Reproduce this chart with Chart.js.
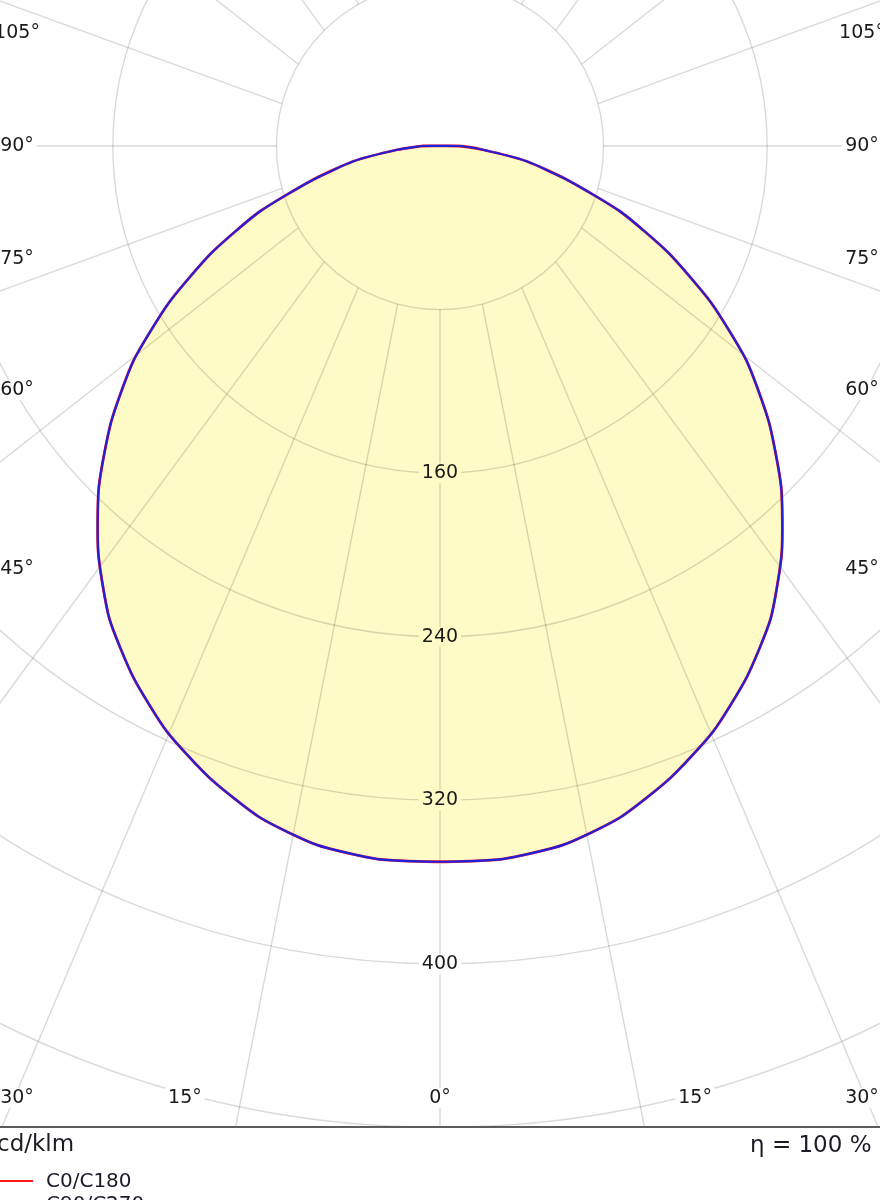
<!DOCTYPE html>
<html>
<head>
<meta charset="utf-8">
<script src="https://cdn.jsdelivr.net/npm/chart.js@4.4.1/dist/chart.umd.min.js"></script>
<style>
  html, body { margin: 0; padding: 0; background: #fff; width: 880px; height: 1200px; overflow: hidden;
    font-family: "DejaVu Sans", Verdana, sans-serif; color: #1c1c28; }
  #plot { position: absolute; left: 0; top: 0; width: 880px; height: 1127px; }
  #foot { position: absolute; left: 0; top: 1126px; width: 880px; height: 74px; border-top: 2px solid #5c5c5c; }
  .big { position: absolute; font-size: 23px; line-height: 26px; white-space: nowrap; }
  .item { position: absolute; left: 0; height: 24px; font-size: 20px; line-height: 24px; white-space: nowrap; }
  .item i { position: absolute; left: 0; top: 12px; width: 33px; height: 0; border-top: 2px solid; }
  .item span { position: absolute; left: 46px; top: 0; }
</style>
</head>
<body>
<div id="plot"><canvas id="ldc"></canvas></div>
<div id="foot">
  <div class="big" style="left:-3px; top:2px;">cd/klm</div>
  <div class="big" style="left:750px; top:3px;">η = 100 %</div>
  <div class="item" style="top:40px;"><i style="border-color:#ff1a1a"></i><span>C0/C180</span></div>
  <div class="item" style="top:63px;"><i style="border-color:#1a1aff"></i><span>C90/C270</span></div>
</div>
<script>
// luminous intensity, cd/klm, per gamma angle (symmetric planes)
let gamma   = [0, 5, 10, 15, 20, 25, 30, 35, 40, 45, 50, 55, 60, 65, 70, 75, 80, 85, 90];
let c0c180  = [350, 350, 347, 340, 329, 316, 300, 282, 260, 236, 210, 183, 153, 123, 94, 65, 43, 21, 9];
let c90c270 = [350, 350, 347, 340, 329, 316, 300, 282, 260, 236, 210, 183, 153, 123, 94, 65, 43, 21, 9];

let rings       = [80, 160, 240, 320, 400, 480, 560];
let ringLabels  = [160, 240, 320, 400];
let spokes      = [0, 15, 30, 45, 60, 75, 90, 105, 120, 135, 150, 165, 180];
let sideLabels  = [45, 60, 75, 90, 105];
let floorLabels = [0, 15, 30];

const fillColor = '#fffbc6';
const rad = d => d * Math.PI / 180;

let curvePoints = (values, closed) => {
  let left = gamma.map((g, i) => ({ x: -values[i] * Math.sin(rad(g)), y: -values[i] * Math.cos(rad(g)) })).reverse();
  let right = gamma.map((g, i) => ({ x: values[i] * Math.sin(rad(g)), y: -values[i] * Math.cos(rad(g)) }));
  let pts = left.concat(right.slice(1));
  if (closed) pts.push(pts[0]);
  return pts;
};

let labelBox = (ctx, text, x, y, bg) => {
  let w = ctx.measureText(text).width + 6;
  ctx.fillStyle = bg;
  ctx.fillRect(x - w / 2, y - 10, w, 20);
  ctx.fillStyle = '#1a1a1a';
  ctx.fillText(text, x, y);
};

const polarGrid = {
  id: 'polarGrid',
  afterDatasetDraw(chart, args) {
    if (args.index !== 0) return;
    let { ctx, scales: { x, y } } = chart;
    let cx = x.getPixelForValue(0), cy = y.getPixelForValue(0);
    let unit = x.getPixelForValue(1) - cx;
    ctx.save();
    ctx.strokeStyle = 'rgba(0,0,0,0.15)';
    ctx.lineWidth = 1.4;
    rings.forEach(v => {
      ctx.beginPath();
      ctx.arc(cx, cy, v * unit, 0, 2 * Math.PI);
      ctx.stroke();
    });
    let r0 = rings[0] * unit;
    spokes.forEach(a => {
      let sides = (a === 0 || a === 180) ? [1] : [1, -1];
      sides.forEach(side => {
        let t = rad(a);
        let sx = cx + side * r0 * Math.sin(t), sy = cy + r0 * Math.cos(t);
        let psi = Math.atan2(Math.sin(t), 1.36 * Math.cos(t));
        ctx.beginPath();
        ctx.moveTo(sx, sy);
        ctx.lineTo(sx + side * 2000 * Math.sin(psi), sy + 2000 * Math.cos(psi));
        ctx.stroke();
      });
    });
    ctx.restore();
  },
  afterDatasetsDraw(chart) {
    let { ctx, chartArea: area, scales: { x, y } } = chart;
    let cx = x.getPixelForValue(0), cy = y.getPixelForValue(0);
    ctx.save();
    ctx.font = '19px "DejaVu Sans"';
    ctx.textAlign = 'center';
    ctx.textBaseline = 'middle';
    ringLabels.forEach(v => {
      labelBox(ctx, String(v), cx, y.getPixelForValue(-v), v < c0c180[0] ? fillColor : '#fff');
    });
    let lx = area.left + 17, rx = area.right - 18;
    sideLabels.forEach(a => {
      let yy = cy + (cx - lx) / Math.tan(rad(a));
      if (a === 90) yy = cy;
      labelBox(ctx, a + '°', lx, yy, '#fff');
      labelBox(ctx, a + '°', rx, yy, '#fff');
    });
    let by = area.bottom - 29;
    floorLabels.forEach(a => {
      let dx = (by - cy) * Math.tan(rad(a));
      labelBox(ctx, a + '°', Math.max(lx, cx - dx), by, '#fff');
      if (a !== 0) labelBox(ctx, a + '°', Math.min(rx, cx + dx), by, '#fff');
    });
    ctx.restore();
  }
};

new Chart(document.getElementById('ldc'), {
  type: 'scatter',
  data: {
    datasets: [
      { data: curvePoints(c0c180, false), showLine: true, fill: 'shape', backgroundColor: fillColor,
        borderWidth: 0, pointRadius: 0, tension: 0.2, order: 3 },
      { label: 'C0/C180', data: curvePoints(c0c180, true), showLine: true, fill: false,
        borderColor: '#ff1a1a', borderWidth: 2.8, pointRadius: 0, tension: 0.2, order: 2 },
      { label: 'C90/C270', data: curvePoints(c90c270, true), showLine: true, fill: false,
        borderColor: '#2020dc', borderWidth: 2.2, pointRadius: 0, tension: 0.2, order: 1 }
    ]
  },
  options: {
    animation: false,
    responsive: true,
    maintainAspectRatio: false,
    events: [],
    layout: { padding: 0 },
    scales: {
      x: { type: 'linear', min: -215.2, max: 215.2, display: false },
      y: { type: 'linear', min: -479.7, max: 71.4, display: false }
    },
    plugins: { legend: { display: false }, tooltip: { enabled: false } }
  },
  plugins: [polarGrid]
});
</script>
</body>
</html>
